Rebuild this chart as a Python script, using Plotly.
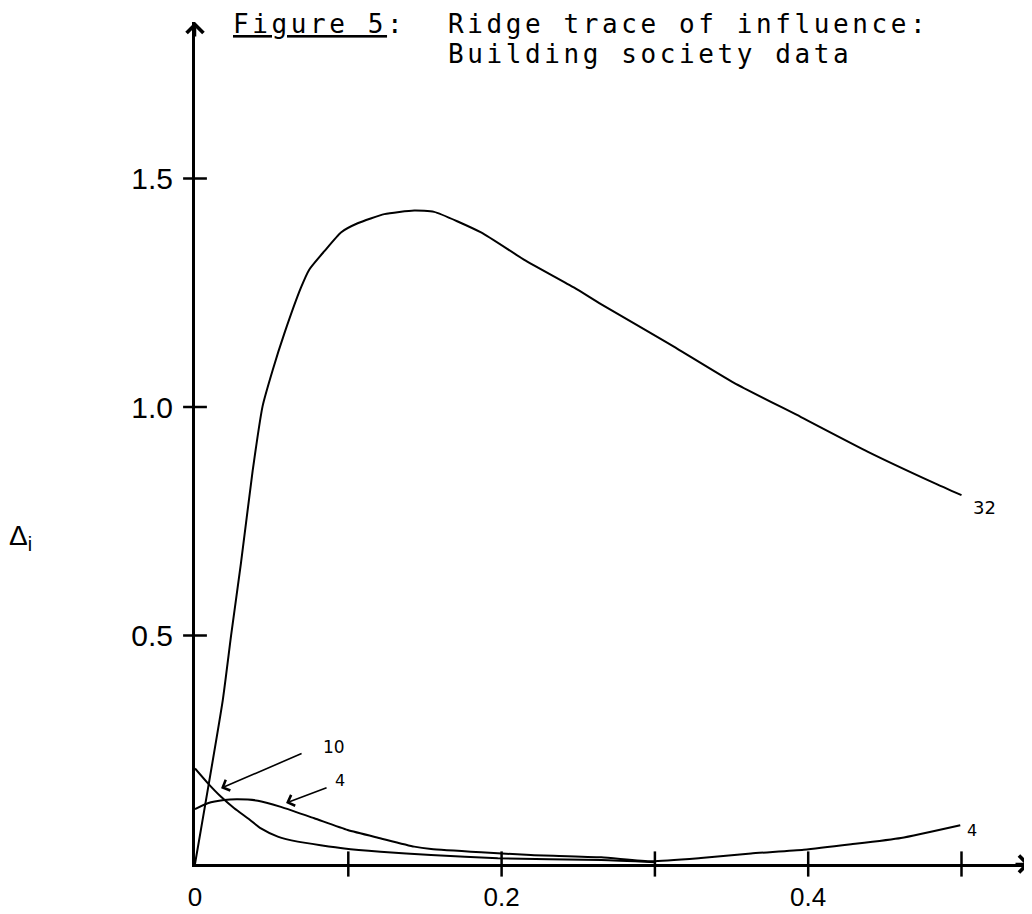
import plotly.graph_objects as go

# ---------------- data ----------------
k_32 = [0, 0.0181, 0.0235, 0.030, 0.0376, 0.0441, 0.0507, 0.0583, 0.0691, 0.0746, 0.0844,
        0.0952, 0.1061, 0.1235, 0.143, 0.156, 0.1866, 0.2148, 0.2474, 0.2648, 0.3085,
        0.3516, 0.3953, 0.439, 0.482, 0.5]
d_32 = [0, 0.358, 0.499, 0.659, 0.860, 1.002, 1.081, 1.161, 1.261, 1.301, 1.341,
        1.382, 1.402, 1.422, 1.430, 1.427, 1.382, 1.322, 1.261, 1.225, 1.140,
        1.053, 0.978, 0.902, 0.834, 0.807]

k_10 = [0, 0.0083, 0.017, 0.0256, 0.0344, 0.043, 0.054, 0.067, 0.0974, 0.121, 0.154,
        0.1975, 0.265, 0.30]
d_10 = [0.209, 0.177, 0.147, 0.122, 0.100, 0.078, 0.060, 0.049, 0.034, 0.027, 0.0197,
        0.0125, 0.0088, 0.004]

k_4 = [0, 0.0083, 0.019, 0.0278, 0.041, 0.056, 0.0778, 0.0996, 0.1213, 0.143, 0.154,
       0.1866, 0.219, 0.265, 0.298, 0.330, 0.3627, 0.397, 0.428, 0.4605, 0.4992]
d_4 = [0.120, 0.133, 0.140, 0.1415, 0.1386, 0.125, 0.100, 0.0744, 0.056, 0.038, 0.0328,
       0.0256, 0.0197, 0.0146, 0.006, 0.013, 0.023, 0.031, 0.043, 0.057, 0.085]

x_tickvals = [0, 0.2, 0.4]
x_ticktext = ["0", "0.2", "0.4"]
x_minor = [0.1, 0.2, 0.3, 0.4, 0.5]
y_tickvals = [0.5, 1.0, 1.5]
y_ticktext = ["0.5", "1.0", "1.5"]

title_fig = "Figure 5"
title_l1 = "Ridge trace of influence:"
title_l2 = "Building society data"
y_label = "Δ<sub>i</sub>"

# ---------------- figure ----------------
W, H = 1032, 914
OFF = 8                       # page body margin
PLOT_L, PLOT_R = 195, 1030    # screen pixels of the plot area
PLOT_T, PLOT_B = 22, 864
PX_PER_X = 1533.0
PX_PER_Y = 457.0
plot_w = PLOT_R - PLOT_L
plot_h = PLOT_B - PLOT_T
ML = PLOT_L - OFF
MT = PLOT_T - OFF
MR = W - ML - plot_w
MB = H - MT - plot_h
x_max = plot_w / PX_PER_X
y_max = plot_h / PX_PER_Y

def py(p):  # screen pixel row -> paper y
    return (PLOT_B - p) / plot_h

def px(p):  # screen pixel column -> paper x
    return (p - PLOT_L) / plot_w

line_style = dict(color="black", width=2, shape="spline", smoothing=0.5)

fig = go.Figure()
fig.add_trace(go.Scatter(x=k_32, y=d_32, mode="lines", line=line_style, hoverinfo="skip"))
fig.add_trace(go.Scatter(x=k_10, y=d_10, mode="lines", line=line_style, hoverinfo="skip"))
fig.add_trace(go.Scatter(x=k_4, y=d_4, mode="lines", line=line_style, hoverinfo="skip"))

# crossing tick marks
fig.add_trace(go.Scatter(x=x_minor, y=[0] * len(x_minor), mode="markers", cliponaxis=False,
                         marker=dict(symbol="line-ns", size=18, line=dict(width=2.5, color="black")),
                         hoverinfo="skip"))
fig.add_trace(go.Scatter(x=[0] * len(y_tickvals), y=y_tickvals, mode="markers", cliponaxis=False,
                         marker=dict(symbol="line-ew", size=17, line=dict(width=2.5, color="black")),
                         hoverinfo="skip"))

sp = "letter-spacing:3.6px"
mono = dict(family="DejaVu Sans Mono", size=26, color="black")
ann = [
    dict(xref="paper", yref="paper", x=px(231), y=py(24), xanchor="left", yanchor="middle",
         text=f'<span style="{sp}"><u>{title_fig}</u>:</span>', showarrow=False, font=mono),
    dict(xref="paper", yref="paper", x=px(446), y=py(24), xanchor="left", yanchor="middle",
         text=f'<span style="{sp}">{title_l1}</span>', showarrow=False, font=mono),
    dict(xref="paper", yref="paper", x=px(446), y=py(54), xanchor="left", yanchor="middle",
         text=f'<span style="{sp}">{title_l2}</span>', showarrow=False, font=mono),
    # y label
    dict(xref="paper", yref="y", x=px(7), y=0.715, xanchor="left", yanchor="middle",
         text=y_label, showarrow=False,
         font=dict(family="Liberation Sans", size=28, color="black")),
    # axis arrows
    dict(xref="paper", yref="paper", x=1, y=0, ax=-16, ay=0, text="", showarrow=True,
         arrowhead=4, arrowsize=1.3, arrowwidth=2.5, arrowcolor="black", standoff=0),
    dict(xref="paper", yref="paper", x=0, y=1, ax=0, ay=16, text="", showarrow=True,
         arrowhead=4, arrowsize=1.3, arrowwidth=2.5, arrowcolor="black", standoff=0),
    # curve labels
    dict(xref="x", yref="y", x=0.5147, y=0.781, text="32", showarrow=False,
         font=dict(family="DejaVu Sans", size=18, color="black")),
    dict(xref="x", yref="y", x=0.507, y=0.0744, text="4", showarrow=False,
         font=dict(family="DejaVu Sans", size=16, color="black")),
    dict(xref="x", yref="y", x=0.0907, y=0.256, text="10", showarrow=False,
         font=dict(family="DejaVu Sans", size=17, color="black")),
    dict(xref="x", yref="y", x=0.0946, y=0.182, text="4", showarrow=False,
         font=dict(family="DejaVu Sans", size=16, color="black")),
    # pointer arrows
    dict(xref="x", yref="y", axref="x", ayref="y", x=0.017, y=0.166, ax=0.0705, ay=0.243,
         text="", showarrow=True, arrowhead=4, arrowsize=1.4, arrowwidth=1.6,
         arrowcolor="black", standoff=0),
    dict(xref="x", yref="y", axref="x", ayref="y", x=0.0594, y=0.1335, ax=0.0868, ay=0.168,
         text="", showarrow=True, arrowhead=4, arrowsize=1.4, arrowwidth=1.6,
         arrowcolor="black", standoff=0),
]

fig.update_layout(
    width=W, height=H,
    margin=dict(l=ML, r=MR, t=MT, b=MB, pad=0),
    paper_bgcolor="white", plot_bgcolor="white",
    showlegend=False,
    annotations=ann,
    xaxis=dict(range=[0, x_max], showgrid=False, zeroline=False, showline=True,
               linecolor="black", linewidth=3, ticks="", tickvals=x_tickvals,
               ticktext=x_ticktext, ticklabelstandoff=8, automargin=False,
               tickfont=dict(family="Liberation Sans", size=26, color="black")),
    yaxis=dict(range=[0, y_max], showgrid=False, zeroline=False, showline=True,
               linecolor="black", linewidth=3, ticks="", tickvals=y_tickvals,
               ticktext=y_ticktext, ticklabelstandoff=13, automargin=False,
               tickfont=dict(family="Liberation Sans", size=30, color="black")),
)

fig.write_html("out.html")
